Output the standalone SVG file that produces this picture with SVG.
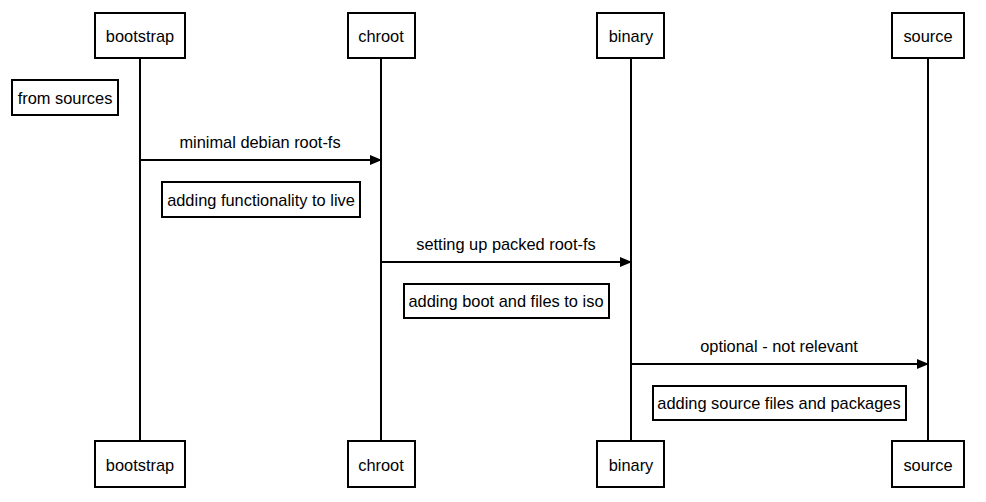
<svg xmlns="http://www.w3.org/2000/svg" width="986" height="502" viewBox="0 0 986 502">
<style>
.box{fill:#fff;stroke:#000;stroke-width:2}
.life{stroke:#000;stroke-width:2;fill:none}
.msg{stroke:#000;stroke-width:2;fill:none}
text{font-family:"Liberation Sans",Arial,sans-serif;font-size:16.4px;fill:#000;text-anchor:middle}
</style>
<defs>
<marker id="ah" markerWidth="12" markerHeight="10" refX="11" refY="5" orient="auto" markerUnits="userSpaceOnUse">
<path d="M0,0 L12,5 L0,10 Z" fill="#000"/>
</marker>
</defs>
<g id="lifelines">
<line class="life" x1="140" y1="58" x2="140" y2="441"/>
<line class="life" x1="381" y1="58" x2="381" y2="441"/>
<line class="life" x1="631" y1="58" x2="631" y2="441"/>
<line class="life" x1="928" y1="58" x2="928" y2="441"/>
</g>
<g id="connectors">
<line class="msg" x1="140" y1="160" x2="381" y2="160" marker-end="url(#ah)"/>
<text x="260" y="148">minimal debian root-fs</text>
<line class="msg" x1="381" y1="262" x2="631" y2="262" marker-end="url(#ah)"/>
<text x="506" y="250">setting up packed root-fs</text>
<line class="msg" x1="631" y1="364" x2="928" y2="364" marker-end="url(#ah)"/>
<text x="779" y="352">optional - not relevant</text>
</g>
<g id="bootstrap-top"><rect class="box" x="95" y="13" width="90" height="45"/><text x="140" y="42">bootstrap</text></g>
<g id="chroot-top"><rect class="box" x="348" y="13" width="67" height="45"/><text x="381" y="42">chroot</text></g>
<g id="binary-top"><rect class="box" x="597" y="13" width="67" height="45"/><text x="631" y="42">binary</text></g>
<g id="source-top"><rect class="box" x="892" y="13" width="72" height="45"/><text x="928" y="42">source</text></g>
<g id="bootstrap-bottom"><rect class="box" x="95" y="441" width="90" height="46"/><text x="140" y="471">bootstrap</text></g>
<g id="chroot-bottom"><rect class="box" x="348" y="441" width="67" height="46"/><text x="381" y="471">chroot</text></g>
<g id="binary-bottom"><rect class="box" x="597" y="441" width="67" height="46"/><text x="631" y="471">binary</text></g>
<g id="source-bottom"><rect class="box" x="892" y="441" width="72" height="46"/><text x="928" y="471">source</text></g>
<g id="note-from-sources"><rect class="box" x="12" y="80" width="106" height="35"/><text x="65" y="104">from sources</text></g>
<g id="note-functionality"><rect class="box" x="162" y="182" width="198" height="35"/><text x="261" y="206">adding functionality to live</text></g>
<g id="note-boot"><rect class="box" x="404" y="284" width="205" height="34"/><text x="506" y="307">adding boot and files to iso</text></g>
<g id="note-source"><rect class="box" x="653" y="386" width="253" height="34"/><text x="779" y="409">adding source files and packages</text></g>
</svg>
